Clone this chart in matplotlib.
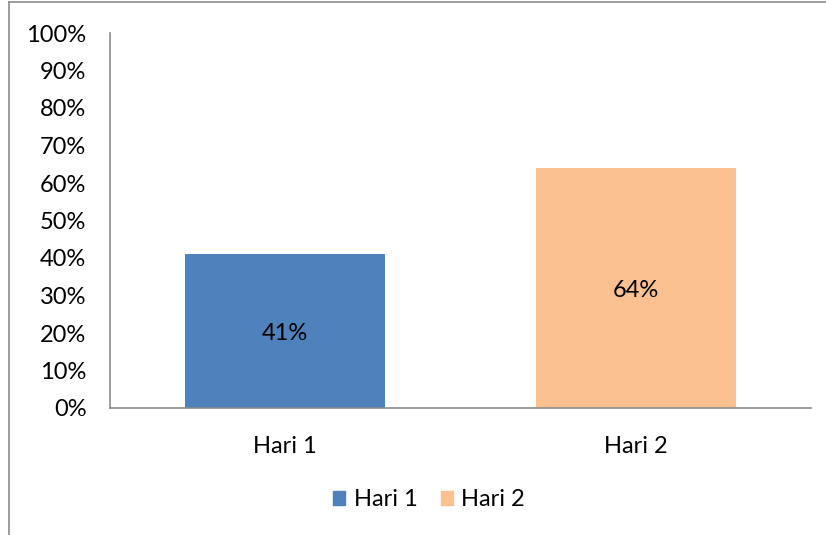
import matplotlib
matplotlib.use("Agg")
import matplotlib.pyplot as plt
from matplotlib.lines import Line2D
from matplotlib.patches import Patch

categories = ["Hari 1", "Hari 2"]
values = [41, 64]
colors = ["#4F81BD", "#FAC090"]
yticks = [0, 10, 20, 30, 40, 50, 60, 70, 80, 90, 100]

plt.rcParams['font.family'] = ['Lato', 'DejaVu Sans']
FS = 17

fig = plt.figure(figsize=(8.26, 5.35), dpi=100)
ax = fig.add_axes([110/826, 1-408/535, (811-110)/826, (408-33)/535])

x = list(range(len(categories)))
bars = ax.bar(x, values, width=200/350, color=colors)
for xi, v in zip(x, values):
    ax.annotate(f"{v}%", (xi, v/2), xytext=(0, -2), textcoords="offset points",
                ha="center", va="center", fontsize=FS, color="black")

ax.set_xlim(-0.5, 1.5)
ax.set_ylim(0, 100)
ax.set_yticks(yticks)
ax.set_yticklabels([f"{t}%" for t in yticks], fontsize=FS)
ax.set_xticks(x)
ax.set_xticklabels(categories, fontsize=FS)
ax.tick_params(axis='both', length=0)
ax.tick_params(axis='y', pad=17)
ax.tick_params(axis='x', pad=20)
for s in ["top", "right"]:
    ax.spines[s].set_visible(False)
for s in ["left", "bottom"]:
    ax.spines[s].set_color("#8C8C8C")
    ax.spines[s].set_linewidth(1.2)

handles = [Patch(color=c, label=l) for c, l in zip(colors, categories)]
fig.legend(handles=handles, loc="center", bbox_to_anchor=(429/826, 1-500/535),
           ncol=2, frameon=False, fontsize=FS, handlelength=0.5, handleheight=0.5,
           handletextpad=0.35, columnspacing=1.0)

fig.add_artist(Line2D([9/826, 9/826], [0, 1-2/535], color="#8C8C8C", lw=1.2, transform=fig.transFigure))
fig.add_artist(Line2D([9/826, 1], [1-2/535, 1-2/535], color="#8C8C8C", lw=1.2, transform=fig.transFigure))

fig.savefig("out.png", dpi=100)
